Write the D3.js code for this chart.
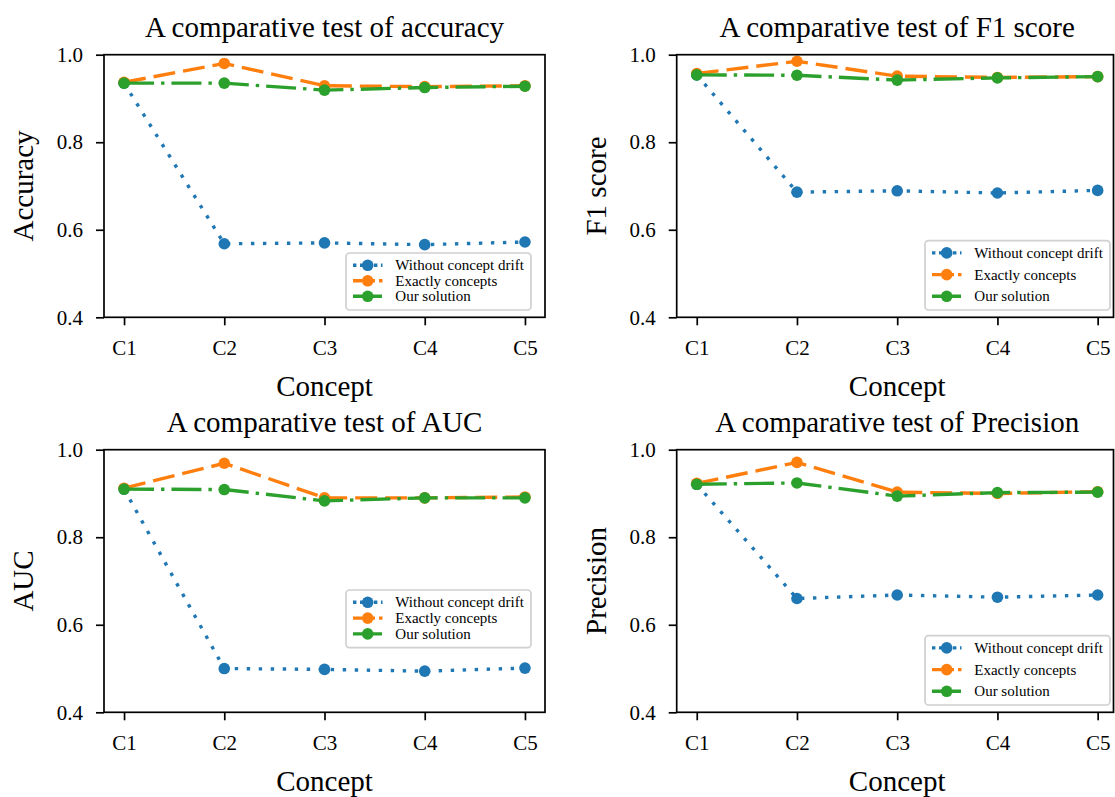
<!DOCTYPE html>
<html>
<head>
<meta charset="utf-8">
<script src="https://cdn.jsdelivr.net/npm/d3@7"></script>
<style>
  html, body { margin: 0; padding: 0; background: #fff; }
  svg { display: block; }
  svg text { font-family: "Liberation Serif", "Times New Roman", serif !important; fill: #000; }
</style>
</head>
<body>
<svg id="chart" width="1115" height="797"></svg>
<script>
// ---------------- data ----------------
const concepts = ["C1", "C2", "C3", "C4", "C5"];
const yTicks = [0.4, 0.6, 0.8, 1.0];
const seriesNames = ["Without concept drift", "Exactly concepts", "Our solution"];

const accWithout = [0.935, 0.568, 0.570, 0.566, 0.572];
const accExact   = [0.937, 0.980, 0.929, 0.927, 0.929];
const accOurs    = [0.935, 0.935, 0.919, 0.925, 0.928];

const f1Without  = [0.954, 0.686, 0.689, 0.684, 0.690];
const f1Exact    = [0.957, 0.985, 0.951, 0.948, 0.950];
const f1Ours     = [0.954, 0.953, 0.942, 0.947, 0.950];

const aucWithout = [0.910, 0.500, 0.498, 0.494, 0.501];
const aucExact   = [0.912, 0.969, 0.890, 0.890, 0.892];
const aucOurs    = [0.910, 0.909, 0.883, 0.890, 0.890];

const precWithout = [0.921, 0.660, 0.668, 0.663, 0.668];
const precExact   = [0.923, 0.971, 0.903, 0.900, 0.904];
const precOurs    = [0.921, 0.924, 0.894, 0.902, 0.903];

const titles = ["A comparative test of accuracy", "A comparative test of F1 score",
                "A comparative test of AUC", "A comparative test of Precision"];
const yLabels = ["Accuracy", "F1 score", "AUC", "Precision"];
const xLabel = "Concept";

// ---------------- styles ----------------
const colors = ["#1f77b4", "#ff7f0e", "#2ca02c"];
const dashes = ["3.4,8.6", "22,8", "30,7,3.4,7"];
const legendDashes = ["3.4,3.6", "9,4", "10,3,3,3"];
const W = 1115, H = 797;

const panels = [
  { data: [accWithout, accExact, accOurs], left: 104, top: 54.7,
    legend: { right: 14, top: null, bottom: 7.3, spacing: 15.5 } },
  { data: [f1Without, f1Exact, f1Ours], left: 676.7, top: 54.7,
    legend: { right: 7.7, top: null, bottom: 7.3, spacing: 21.7 } },
  { data: [aucWithout, aucExact, aucOurs], left: 104, top: 449.7,
    legend: { right: 14, top: 140.3, bottom: null, spacing: 15.8 } },
  { data: [precWithout, precExact, precOurs], left: 676.7, top: 449.7,
    legend: { right: 7.7, top: null, bottom: 7.3, spacing: 21.7 } }
];
const axW = 441, axH = 262.6;

const svg = d3.select("#chart");

panels.forEach((p, i) => {
  const x = d3.scaleLinear().domain([-0.2, 4.2]).range([p.left, p.left + axW]);
  const y = d3.scaleLinear().domain([0.4, 1.0]).range([p.top + axH, p.top]);
  const g = svg.append("g");
  const right = Math.min(p.left + axW, W - 1.5);

  // axes
  const xAxis = d3.axisBottom(x).tickValues(d3.range(concepts.length))
      .tickFormat(d => concepts[d]).tickSizeOuter(0).tickSizeInner(8).tickPadding(6);
  const gx = g.append("g").attr("transform", `translate(0,${p.top + axH})`).call(xAxis);
  gx.select(".domain").remove();
  gx.selectAll(".tick line").attr("stroke", "#000").attr("stroke-width", 1.7);
  gx.selectAll(".tick text").attr("font-size", 21).attr("dy", "1.12em");

  const yAxis = d3.axisLeft(y).tickValues(yTicks).tickFormat(d3.format(".1f"))
      .tickSizeOuter(0).tickSizeInner(8).tickPadding(13);
  const gy = g.append("g").attr("transform", `translate(${p.left},0)`).call(yAxis);
  gy.select(".domain").remove();
  gy.selectAll(".tick line").attr("stroke", "#000").attr("stroke-width", 1.7);
  gy.selectAll(".tick text").attr("font-size", 21);

  // series
  const line = d3.line().x((d, j) => x(j)).y(d => y(d));
  p.data.forEach((vals, s) => {
    g.append("path").datum(vals).attr("d", line)
      .attr("fill", "none").attr("stroke", colors[s]).attr("stroke-width", 3.4)
      .attr("stroke-dasharray", dashes[s]);
    g.selectAll(null).data(vals).enter().append("circle")
      .attr("cx", (d, j) => x(j)).attr("cy", d => y(d)).attr("r", 5.8)
      .attr("fill", colors[s]);
  });

  // spines
  g.append("rect").attr("x", p.left).attr("y", p.top)
    .attr("width", right - p.left).attr("height", axH)
    .attr("fill", "none").attr("stroke", "#000").attr("stroke-width", 1.7);

  // title and labels
  g.append("text").attr("x", p.left + axW / 2).attr("y", p.top - 17.5)
    .attr("text-anchor", "middle").attr("font-size", 29).text(titles[i]);
  g.append("text").attr("x", p.left + axW / 2).attr("y", p.top + axH + 78.5)
    .attr("text-anchor", "middle").attr("font-size", 29).text(xLabel);
  g.append("text")
    .attr("transform", `translate(${p.left - 70.7},${p.top + axH / 2}) rotate(-90)`)
    .attr("text-anchor", "middle").attr("font-size", 29).text(yLabels[i]);

  // legend
  const L = p.legend;
  const lw = 185, lh = L.spacing * 2 + 26;
  const lx = p.left + axW - L.right - lw;
  const ly = L.top !== null ? p.top + L.top : p.top + axH - L.bottom - lh;
  const lg = g.append("g");
  lg.append("rect").attr("x", lx).attr("y", ly).attr("width", lw).attr("height", lh)
    .attr("rx", 3.5).attr("fill", "#fff").attr("fill-opacity", 0.8)
    .attr("stroke", "#d0d0d0").attr("stroke-width", 1.7);
  seriesNames.forEach((name, s) => {
    const ry = ly + 12.3 + s * L.spacing;
    lg.append("line").attr("x1", lx + 7).attr("x2", lx + 36.5).attr("y1", ry).attr("y2", ry)
      .attr("stroke", colors[s]).attr("stroke-width", 3.4)
      .attr("stroke-dasharray", legendDashes[s]);
    lg.append("circle").attr("cx", lx + 21.7).attr("cy", ry).attr("r", 5.8).attr("fill", colors[s]);
    lg.append("text").attr("x", lx + 49.3).attr("y", ry).attr("dy", "0.33em")
      .attr("font-size", 15).text(name);
  });
});
</script>
</body>
</html>
